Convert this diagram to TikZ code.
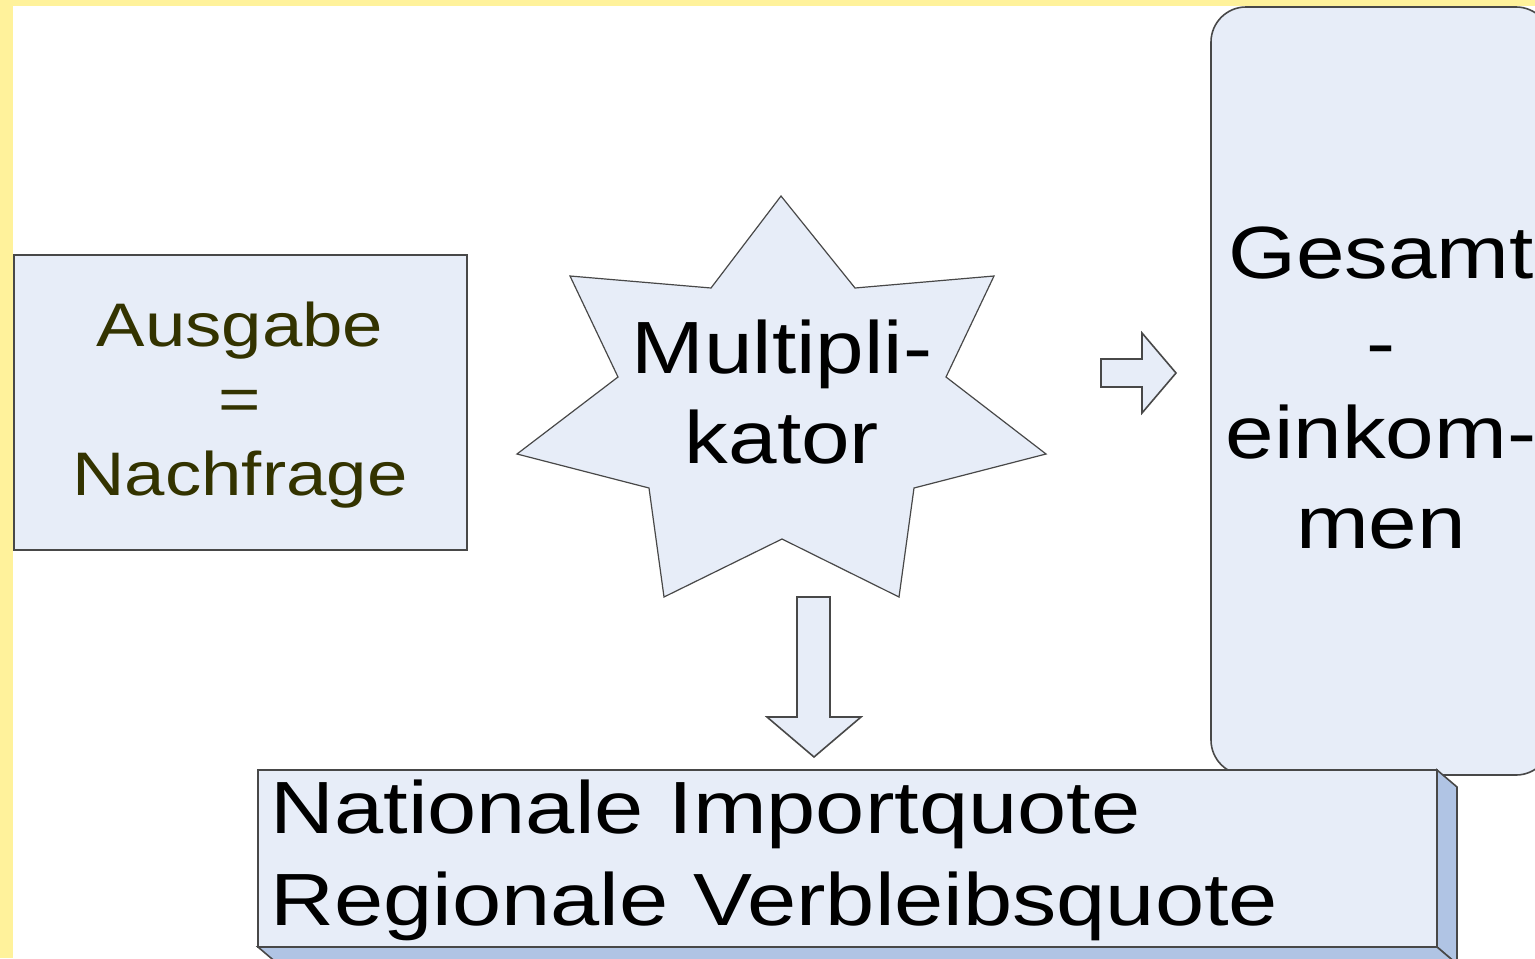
\documentclass[tikz,border=0pt]{standalone}
\usepackage{fontspec}
\setmainfont{Liberation Sans}
\usepackage{graphicx}
\definecolor{framecol}{HTML}{FFF29B}
\definecolor{boxfill}{HTML}{E7EDF8}
\definecolor{sidecol}{HTML}{B0C4E4}
\definecolor{edgecol}{HTML}{484848}
\definecolor{olivetext}{HTML}{333300}
\begin{document}
\begin{tikzpicture}[x=0.5pt,y=-0.5pt,
  shapefill/.style={fill=boxfill, draw=edgecol, line width=0.8pt, line join=miter},
  sidefill/.style={fill=sidecol, draw=edgecol, line width=0.8pt, line join=miter},
  txt/.style={inner sep=0pt, anchor=base},
  bigfont/.style={font=\fontsize{37}{45}\selectfont},
  midfont/.style={font=\fontsize{30.75}{37.25}\selectfont}]
\useasboundingbox (0,0) rectangle (1535,958);
\clip (0,0) rectangle (1535,958);
\fill[white] (0,0) rectangle (1535,958);
\fill[framecol] (0,0) rectangle (1535,6);
\fill[framecol] (0,0) rectangle (13,958);
% right rounded box
\draw[shapefill, rounded corners=17.5pt] (1211,7) rectangle (1551,775);
% left box
\draw[shapefill] (14,255) rectangle (467,550);
% star
\draw[shapefill, line width=0.6pt] (781,196)--(855,288)--(994,276)--(946,377)--(1046,454)--(914,488)--(899,597)--(782,539)--(664,597)--(649,488)--(517,454)--(618,377)--(570,276)--(711,288)--cycle;
% right block arrow
\draw[shapefill] (1101,359)--(1142,359)--(1142,333)--(1176,373)--(1142,413)--(1142,387)--(1101,387)--cycle;
% down block arrow
\draw[shapefill] (797,597)--(830,597)--(830,717)--(861,717)--(814,757)--(767,717)--(797,717)--cycle;
% bottom 3D box
\draw[sidefill] (1437,770)--(1457,787)--(1457,964)--(1437,947)--cycle;
\draw[sidefill] (258,947)--(1437,947)--(1457,964)--(278,964)--cycle;
\draw[shapefill] (258,770) rectangle (1437,947);
% texts
\node[txt, midfont, text=olivetext] (ausgabe) at (240,346)
  {\scalebox{1.18}[1]{\begin{tabular}[t]{@{}c@{}}Ausgabe\\=\\Nachfrage\end{tabular}}};
\node[txt, bigfont] (multi) at (782,373)
  {\scalebox{1.18}[1]{\begin{tabular}[t]{@{}c@{}}Multipli-\\kator\end{tabular}}};
\node[txt, bigfont] (gesamt) at (1381,278)
  {\scalebox{1.18}[1]{\begin{tabular}[t]{@{}c@{}}Gesamt\\-\\einkom-\\men\end{tabular}}};
\node[txt, anchor=base west, font=\fontsize{37}{46}\selectfont] (quote) at (270,833)
  {\scalebox{1.195}[1]{\begin{tabular}[t]{@{}l@{}}Nationale Importquote\\Regionale Verbleibsquote\end{tabular}}};
\end{tikzpicture}
\end{document}
